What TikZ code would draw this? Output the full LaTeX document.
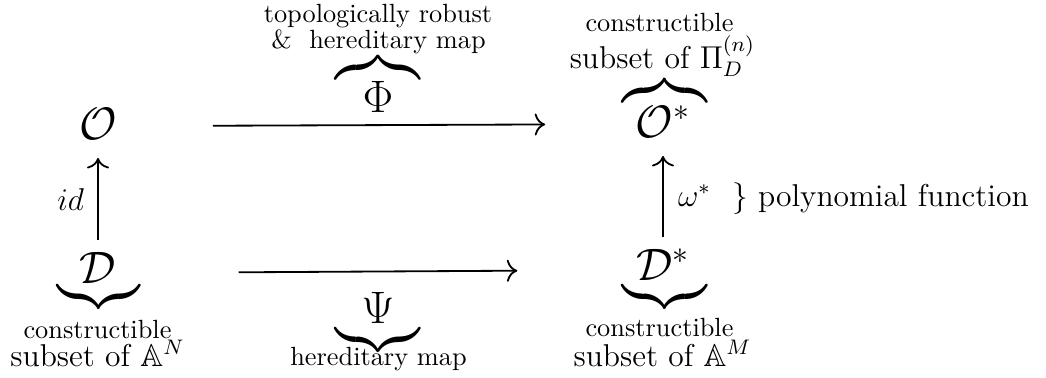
\documentclass[tikz,border=0pt]{standalone}
\usepackage{amsmath,amssymb}
\usetikzlibrary{arrows.meta}
\begin{document}
\begin{tikzpicture}[x=0.38pt,y=-0.38pt,
  every node/.style={inner sep=0pt,outer sep=0pt},
  sym/.style={font=\LARGE,anchor=base},
  lbl/.style={font=\normalsize,anchor=base},
  sub/.style={font=\large,anchor=base},
  obrace/.style={font=\LARGE,anchor=south},
  ubrace/.style={font=\LARGE,anchor=north},
  arr/.style={line width=0.69pt,-{Computer Modern Rightarrow[length=4pt,width=8.4pt]}}]
\useasboundingbox (0,0) rectangle (1046,377);
% main objects
\node[sym] (O) at (98,139) {$\mathcal{O}$};
\node[sym] (Os) at (663,137) {$\mathcal{O}^*$};
\node[sym] (D) at (98,283) {$\mathcal{D}$};
\node[sym] (Ds) at (663,280) {$\mathcal{D}^*$};
\node[sym] (Phi) at (378,112) {$\Phi$};
\node[sym] (Psi) at (378,323) {$\Psi$};
% braces
\node[obrace] (bPhi) at (378,78) {$\overbrace{\hspace{32pt}}$};
\node[ubrace] (bPsi) at (378,329) {$\underbrace{\hspace{32pt}}$};
\node[ubrace] (bD) at (98.5,286) {$\underbrace{\hspace{31.5pt}}$};
\node[ubrace] (bDs) at (664.5,286) {$\underbrace{\hspace{32.3pt}}$};
\node[obrace] (bOs) at (664.5,101) {$\overbrace{\hspace{32.3pt}}$};
% labels
\node[lbl] (t1) at (378,22) {topologically robust};
\node[lbl] (t2) at (378.5,48) {\&\ \ hereditary map};
\node[lbl] (rc1) at (659.5,31) {constructible};
\node[sub] (rc2) at (662.5,68) {subset of $\Pi_D^{(n)}$};
\node[lbl] (lc1) at (97.5,338) {constructible};
\node[sub] (lc2) at (97.5,366) {subset of $\mathbb{A}^N$};
\node[lbl] (rb1) at (659.5,336) {constructible};
\node[sub] (rb2) at (662.5,366) {subset of $\mathbb{A}^M$};
\node[lbl] (hm) at (378.5,365) {hereditary map};
\node[font=\large,anchor=base east] (id) at (84,210) {$id$};
\node[font=\large,anchor=base west] (om) at (678,206) {$\omega^*$};
\node[font=\large,anchor=base west] (poly) at (732,206) {$\}$ polynomial function};
% arrows
\draw[arr,shorten <=36.5pt,shorten >=34.4pt] ([yshift=4.9pt]O.base east) -- ([yshift=4.9pt]Os.base west);
\draw[arr,shorten <=46.5pt,shorten >=45.2pt] ([yshift=3.8pt]D.base east) -- ([yshift=3.8pt]Ds.base west);
\draw[arr,shorten <=4.6pt,shorten >=7.2pt] (D.north) -- (O.south);
\draw[arr,shorten <=4.6pt,shorten >=7.2pt] (Ds.north) -- (Os.south);
\end{tikzpicture}
\end{document}
